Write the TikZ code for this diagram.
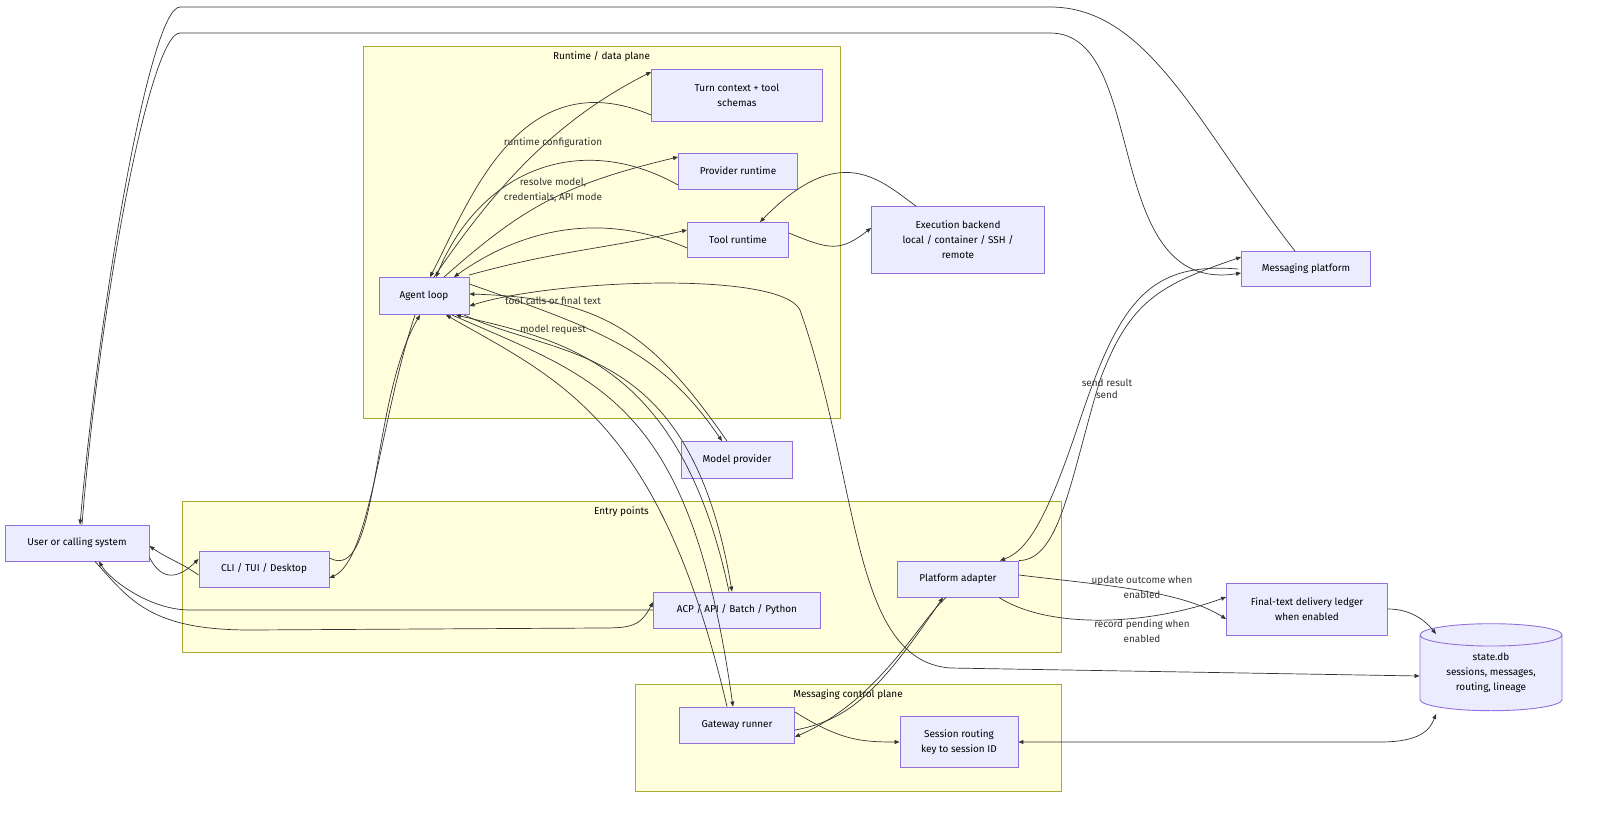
\documentclass[tikz,border=0pt]{standalone}
\usepackage{fontspec}
\setmainfont{Fira Sans}
\usetikzlibrary{arrows.meta,shapes.geometric}
\definecolor{nfill}{HTML}{ECECFF}
\definecolor{ndraw}{HTML}{9370DB}
\definecolor{cfill}{HTML}{FFFFDE}
\definecolor{cdraw}{HTML}{AAAA33}
\definecolor{edge}{HTML}{333333}
\begin{document}
\begin{tikzpicture}[x=1bp,y=-1bp,
  box/.style={draw=ndraw,fill=nfill,line width=0.9pt,align=center,inner sep=0pt,font=\fontsize{10}{15}\selectfont},
  clus/.style={draw=cdraw,fill=cfill,line width=0.8pt},
  ctitle/.style={font=\fontsize{10}{12}\selectfont,anchor=north},
  lbl/.style={font=\fontsize{10}{15}\selectfont,align=center,text=edge},
  e/.style={draw=edge,line width=0.7pt,-{Triangle[length=5pt,width=4pt]}},
  eb/.style={draw=edge,line width=0.7pt,{Triangle[length=5pt,width=4pt]}-{Triangle[length=5pt,width=4pt]}}]
\useasboundingbox (0,0) rectangle (1600,813);
\fill[white] (0,0) rectangle (1600,813);
% clusters
\draw[clus] (363,46) rectangle (840,418);
\node[ctitle] (cr) at (601.5,48) {Runtime / data plane};
\draw[clus] (182,501) rectangle (1061,652);
\node[ctitle] (ce) at (621.5,503) {Entry points};
\draw[clus] (635,684) rectangle (1061,791);
\node[ctitle] (cm) at (848,686) {Messaging control plane};
% nodes
\node[box,minimum width=171bp,minimum height=52bp] (turn) at (737,95) {Turn context + tool\\schemas};
\node[box,minimum width=119bp,minimum height=36bp] (prov) at (738,171) {Provider runtime};
\node[box,minimum width=101bp,minimum height=35bp] (tool) at (738,240) {Tool runtime};
\node[box,minimum width=173bp,minimum height=67bp] (exec) at (958,240) {Execution backend\\local / container / SSH /\\remote};
\node[box,minimum width=90bp,minimum height=37bp] (agent) at (424,296) {Agent loop};
\node[box,minimum width=111bp,minimum height=37bp] (model) at (737,460) {Model provider};
\node[box,minimum width=144bp,minimum height=36bp] (user) at (77,543) {User or calling system};
\node[box,minimum width=130bp,minimum height=36bp] (cli) at (264,569) {CLI / TUI / Desktop};
\node[box,minimum width=167bp,minimum height=36bp] (acp) at (737,610) {ACP / API / Batch / Python};
\node[box,minimum width=121bp,minimum height=36bp] (pad) at (958,579) {Platform adapter};
\node[box,minimum width=161bp,minimum height=52bp] (ledger) at (1307,609) {Final-text delivery ledger\\when enabled};
\node[box,minimum width=115bp,minimum height=36bp] (gw) at (737,725) {Gateway runner};
\node[box,minimum width=118bp,minimum height=51bp] (sess) at (959,742) {Session routing\\key to session ID};
\node[box,minimum width=129bp,minimum height=35bp] (mp) at (1306,269) {Messaging platform};
\node[box,cylinder,shape border rotate=90,aspect=0.25,minimum width=142bp,minimum height=87bp] (db) at (1491,673) {state.db\\sessions, messages,\\routing, lineage};
\coordinate (ua) at (180,7);
\coordinate (ub) at (180,33);
\coordinate (dbtop) at (1436,634);
\coordinate (dbbot) at (1436,714);
% edges: user / entry points
\draw[e] ([yshift=4bp]user.south east) .. controls (160,578) and (175,582) .. ([yshift=10bp]cli.west);
\draw[e] ([yshift=-6bp]cli.west) .. controls (180,562) and (170,560) .. ([yshift=-3bp]user.east);
\draw[e] ([yshift=11bp]cli.east) .. controls (380,585) and (370,400) .. ([xshift=-4bp]agent.south);
\draw[e] ([xshift=-9bp]agent.south) .. controls (380,420) and (370,560) .. ([yshift=-9bp]cli.east);
\draw[e] ([xshift=18bp]user.south) .. controls (130,600) and (150,630) .. (250,630) -- (600,628) .. controls (630,628) and (640,627) .. ([yshift=8bp]acp.west);
\draw[e] (acp.west) -- (190,610) .. controls (150,610) and (110,580) .. ([xshift=22bp]user.south);
% agent <-> turn context
\draw[e] ([yshift=-20bp]turn.west) .. controls (520,60) and (470,200) .. ([xshift=6bp]agent.north);
\draw[e] ([xshift=10bp]agent.north) .. controls (500,180) and (560,118) .. ([yshift=23bp]turn.west);
% agent <-> provider
\draw[e] ([yshift=-14bp]prov.west) .. controls (580,130) and (480,170) .. ([xshift=12bp]agent.north);
\draw[e] ([xshift=20bp]agent.north) .. controls (520,210) and (560,185) .. ([yshift=14bp]prov.west);
\node[lbl] (l1) at (553,143) {runtime configuration};
\node[lbl] (l2) at (553,190) {resolve model,\\credentials, API mode};
% agent <-> tool
\draw[e] ([yshift=-8bp]tool.west) .. controls (600,210) and (520,230) .. ([xshift=30bp]agent.north);
\draw[e] ([xshift=45bp,yshift=2bp]agent.north) .. controls (560,250) and (600,250) .. ([yshift=10bp]tool.west);
% tool <-> exec
\draw[e] ([yshift=7bp]tool.east) .. controls (830,250) and (840,252) .. ([yshift=12bp]exec.west);
\draw[e] ([xshift=-42bp]exec.north) .. controls (880,180) and (840,140) .. ([xshift=22bp]tool.north);
% agent <-> model
\draw[e] ([yshift=12bp]agent.east) .. controls (600,330) and (660,350) .. ([xshift=-15bp]model.north);
\draw[e] ([xshift=-10bp]model.north) .. controls (650,330) and (600,298) .. ([yshift=2bp]agent.east);
\node[lbl] (l3) at (553,301) {tool calls or final text};
\node[lbl] (l4) at (553,330) {model request};
% agent <-> acp / gateway
\draw[e] ([xshift=40bp]agent.south) .. controls (560,360) and (690,340) .. ([xshift=-5bp]acp.north);
\draw[e] ([xshift=-8bp]acp.north) .. controls (680,360) and (560,340) .. ([xshift=32bp]agent.south);
\draw[e] ([xshift=28bp]agent.south) .. controls (600,380) and (690,400) .. ([xshift=-4bp]gw.north);
\draw[e] ([xshift=-10bp]gw.north) .. controls (660,420) and (560,380) .. ([xshift=22bp]agent.south);
% agent <-> state.db
\draw[eb] ([yshift=-10bp]agent.east) .. controls (550,280) and (780,270) .. (800,310) .. controls (860,480) and (850,660) .. (950,668) -- ([yshift=-3bp]db.west);
% gateway / adapter / session
\draw[e] ([xshift=-12bp]pad.south) .. controls (920,620) and (880,700) .. ([yshift=-12bp]gw.east);
\draw[e] ([yshift=-5bp]gw.east) .. controls (850,720) and (880,690) .. ([xshift=-15bp]pad.south);
\draw[e] ([yshift=13bp]gw.east) .. controls (840,740) and (860,742) .. (sess.west);
\draw[eb] (sess.east) -- (1380,742) .. controls (1420,742) and (1430,730) .. (dbbot);
% adapter <-> messaging platform
\draw[e] ([xshift=-3bp]mp.west) .. controls (1150,262) and (1120,300) .. (1080,420) .. controls (1050,510) and (1030,550) .. ([xshift=42bp]pad.north);
\draw[e] (pad.north east) .. controls (1060,560) and (1070,480) .. (1100,380) .. controls (1130,300) and (1160,285) .. ([yshift=12bp]mp.west);
\node[lbl,font=\fontsize{10}{12}\selectfont] (l5) at (1107,389) {send result\\send};
% adapter -> ledger
\draw[e] ([yshift=4bp]pad.east) .. controls (1100,585) and (1180,590) .. ([yshift=-10bp]ledger.west);
\draw[e] ([xshift=-20bp]pad.south east) .. controls (1050,630) and (1150,625) .. ([yshift=12bp]ledger.west);
\node[lbl] (l6) at (1142,587) {update outcome when\\enabled};
\node[lbl] (l7) at (1142,631) {record pending when\\enabled};
\draw[e] (ledger.east) .. controls (1410,609) and (1425,620) .. (dbtop);
% user <-> messaging platform
\draw[e] ([xshift=-11bp]mp.north) .. controls (1200,130) and (1150,7) .. (1050,7) -- (ua) .. controls (150,7) and (100,300) .. ([xshift=3bp]user.north);
\draw[e] ([xshift=5bp]user.north) .. controls (100,300) and (150,33) .. (ub) -- (1050,33) .. controls (1150,33) and (1100,295) .. ([yshift=-4bp]mp.west);
\end{tikzpicture}
\end{document}
